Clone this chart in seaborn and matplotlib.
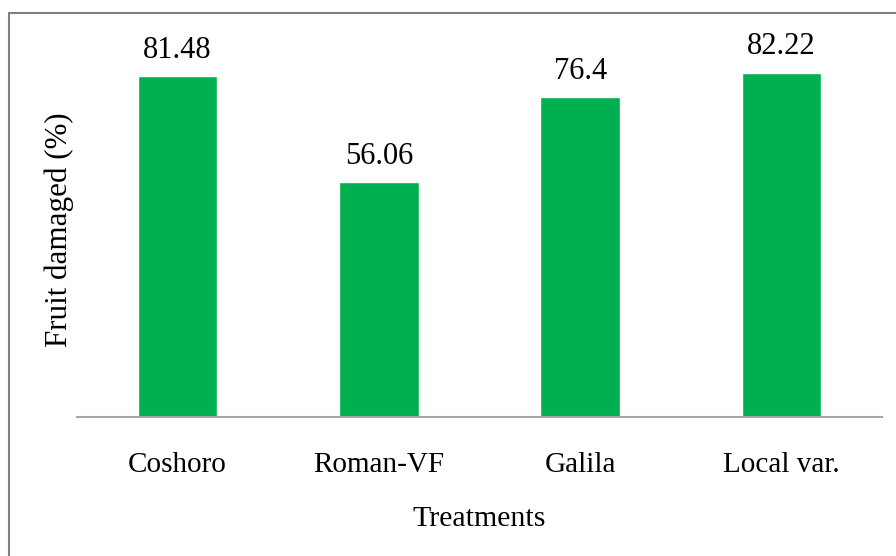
import matplotlib
matplotlib.use("Agg")
import matplotlib.pyplot as plt
import seaborn as sns
import pandas as pd
from matplotlib.lines import Line2D

categories = ["Coshoro", "Roman-VF", "Galila", "Local var."]
values = [81.48, 56.06, 76.4, 82.22]
value_labels = ["81.48", "56.06", "76.4", "82.22"]

sns.set_theme(style="white")
plt.rcParams['font.family'] = ['Liberation Serif', 'DejaVu Serif']

df = pd.DataFrame({"Treatment": categories, "Damage": values})

W, H = 896, 556
fig = plt.figure(figsize=(W / 100, H / 100), dpi=100)
ax = fig.add_axes([77 / W, (H - 417) / H, (882 - 77) / W, (417 - 40) / H])

sns.barplot(data=df, x="Treatment", y="Damage", color="#00B050",
            width=0.395, saturation=1, ax=ax)

ax.set_ylim(0, 90)
ax.set_xlim(-0.5, 3.5)
ax.set_yticks([])
for s in ["left", "top", "right"]:
    ax.spines[s].set_visible(False)
ax.spines["bottom"].set_color("#A6A6A6")
ax.spines["bottom"].set_linewidth(1.5)

for i, (v, lab) in enumerate(zip(values, value_labels)):
    ax.annotate(lab, (i, v), xytext=(0, 8), textcoords="offset points",
                ha="center", va="bottom", fontsize=22, color="#000000")

ax.tick_params(axis="x", length=0, labelsize=21, pad=25, colors="#000000")
ax.set_xlabel("Treatments", fontsize=21.5, labelpad=20, color="#000000")
ax.set_ylabel("Fruit damaged (%)", fontsize=22.3, color="#000000")
ax.yaxis.set_label_coords(-3 / (882 - 77), (417 - 230) / (417 - 40))

# outer frame (left and top edges visible)
fig.add_artist(Line2D([8.5 / W, 8.5 / W], [0, 1 - 12.5 / H], transform=fig.transFigure,
                      color="#808080", lw=1.5))
fig.add_artist(Line2D([8.5 / W, 1], [1 - 12.5 / H, 1 - 12.5 / H], transform=fig.transFigure,
                      color="#808080", lw=1.5))

fig.savefig("out.png", dpi=100, facecolor="white")
